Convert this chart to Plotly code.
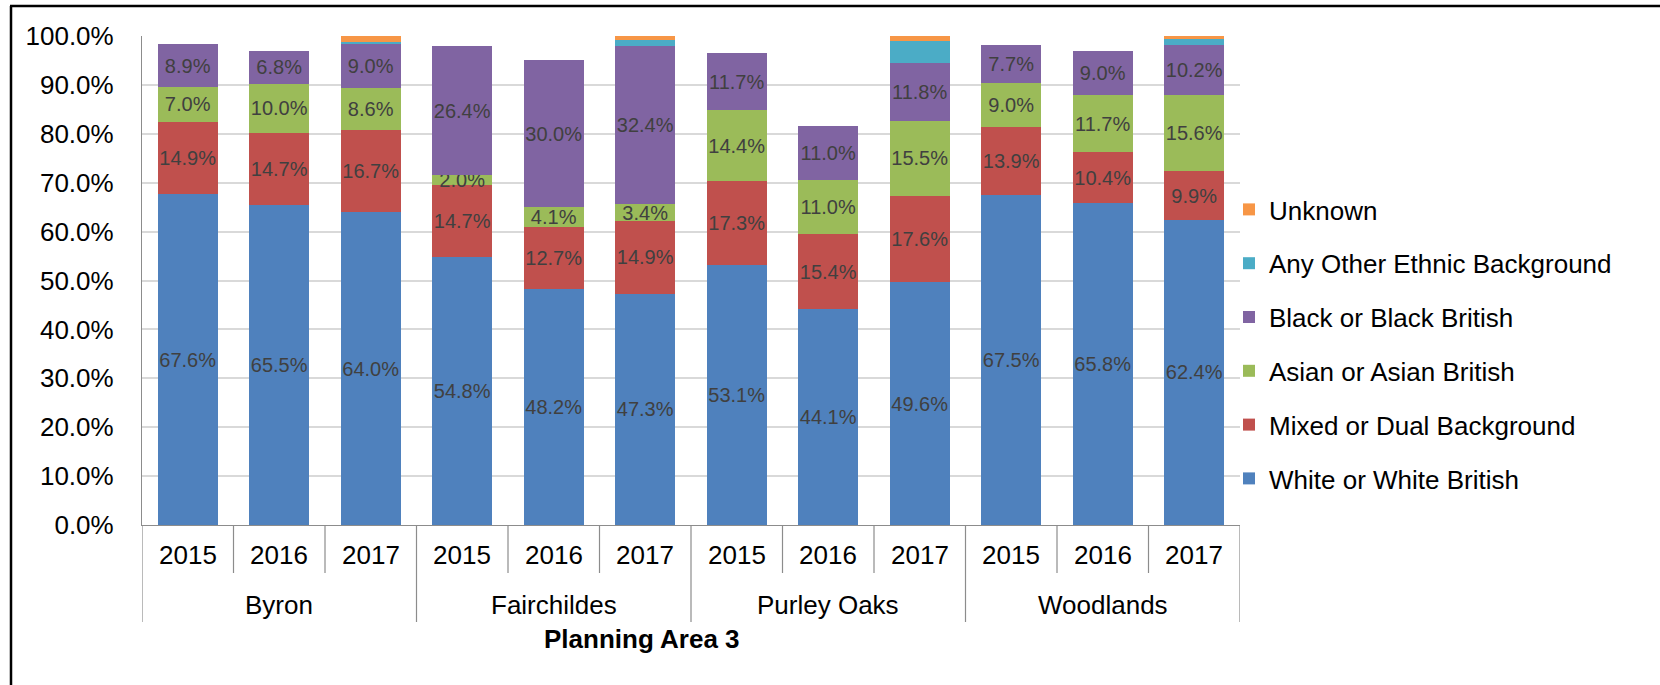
import plotly.graph_objects as go

groups = ["Byron", "Fairchildes", "Purley Oaks", "Woodlands"]
years = ["2015", "2016", "2017"]

white = [67.6, 65.5, 64.0, 54.8, 48.2, 47.3, 53.1, 44.1, 49.6, 67.5, 65.8, 62.4]
mixed = [14.9, 14.7, 16.7, 14.7, 12.7, 14.9, 17.3, 15.4, 17.6, 13.9, 10.4, 9.9]
asian = [7.0, 10.0, 8.6, 2.0, 4.1, 3.4, 14.4, 11.0, 15.5, 9.0, 11.7, 15.6]
black = [8.9, 6.8, 9.0, 26.4, 30.0, 32.4, 11.7, 11.0, 11.8, 7.7, 9.0, 10.2]
other = [0, 0, 0.5, 0, 0, 1.25, 0, 0, 4.4, 0, 0, 1.2]
unknown = [0, 0, 1.2, 0, 0, 0.75, 0, 0, 1.1, 0, 0, 0.7]

series = [
    ("White or White British", white, "#4F81BD", True),
    ("Mixed or Dual Background", mixed, "#C0504D", True),
    ("Asian or Asian British", asian, "#9BBB59", True),
    ("Black or Black British", black, "#8064A2", True),
    ("Any Other Ethnic Background", other, "#4BACC6", False),
    ("Unknown", unknown, "#F79646", False),
]

cats = [f"{g} {y}" for g in groups for y in years]
FONT = "Arial, Liberation Sans, sans-serif"

fig = go.Figure()
for i, (name, vals, color, lab) in enumerate(series):
    fig.add_trace(go.Bar(
        x=cats, y=vals, name=name, marker_color=color,
        marker_line_width=0, legendgroup=f"g{i}",
        legendrank=100 - i,
        texttemplate="%{y:.1f}%" if lab else None,
        textposition="inside" if lab else "none",
        insidetextanchor="middle", textangle=0, constraintext="none",
        textfont=dict(size=20, color="#404040", family=FONT),
    ))

PH = 489.0
shapes = []
n = len(cats)
for b in range(n + 1):
    is_group = (b % len(years) == 0)
    shapes.append(dict(type="line", xref="x", yref="paper",
                       x0=b - 0.5, x1=b - 0.5, y0=0,
                       y1=-(97 if is_group else 48) / PH,
                       line=dict(color="#8c8c8c", width=1.2)))
# outer frame
shapes.append(dict(type="line", xref="paper", yref="paper",
                   x0=(10 - 142) / 1098, x1=(1700 - 142) / 1098,
                   y0=1 + (36 - 6) / PH, y1=1 + (36 - 6) / PH,
                   line=dict(color="black", width=2.5)))
shapes.append(dict(type="line", xref="paper", yref="paper",
                   x0=(11 - 142) / 1098, x1=(11 - 142) / 1098,
                   y0=1 + (36 - 6) / PH, y1=-(700 - 525) / PH,
                   line=dict(color="black", width=2.5)))

annotations = []
for c in cats:
    annotations.append(dict(x=c, xref="x", yref="paper", y=-(555 - 525) / PH,
                            text=c.split(" ")[-1], showarrow=False, yanchor="middle",
                            font=dict(size=26, color="black", family=FONT)))
for gi, g in enumerate(groups):
    annotations.append(dict(x=cats[gi * len(years) + 1], xref="x", yref="paper",
                            y=-(605 - 525) / PH, text=g, showarrow=False,
                            yanchor="middle",
                            font=dict(size=26, color="black", family=FONT)))
annotations.append(dict(x=(642 - 142) / 1098, xref="paper", yref="paper",
                        y=-(639 - 525) / PH, text="<b>Planning Area 3</b>",
                        showarrow=False, yanchor="middle",
                        font=dict(size=26, color="black", family=FONT)))

fig.update_layout(
    barmode="stack", bargap=0.344,
    width=1660, height=685,
    margin=dict(l=142, r=420, t=36, b=160, autoexpand=False),
    paper_bgcolor="white", plot_bgcolor="white",
    font=dict(family=FONT, size=26, color="black"),
    showlegend=True,
    legend=dict(traceorder="grouped", tracegroupgap=17,
                x=(1229 - 142) / 1098, xanchor="left", xref="paper",
                y=1 - (186 - 36) / PH, yanchor="top",
                bgcolor="rgba(0,0,0,0)", font=dict(size=26, family=FONT),
                itemwidth=30),
    xaxis=dict(type="category", showticklabels=False, showgrid=False,
               showline=True, linecolor="#8c8c8c", linewidth=1.2,
               ticks="", range=[-0.5, n - 0.5]),
    yaxis=dict(range=[0, 100], dtick=10, tickformat=".1f", ticksuffix="%",
               showgrid=True, gridcolor="#d9d9d9", gridwidth=1.5,
               showline=True, linecolor="#8c8c8c", linewidth=1.2,
               ticks="", ticklabelstandoff=22, zeroline=False,
               tickfont=dict(size=26, color="black", family=FONT)),
    shapes=shapes, annotations=annotations,
)

fig.write_html("out.html", config={"displayModeBar": False},
               post_script="document.body.style.margin='0';")
